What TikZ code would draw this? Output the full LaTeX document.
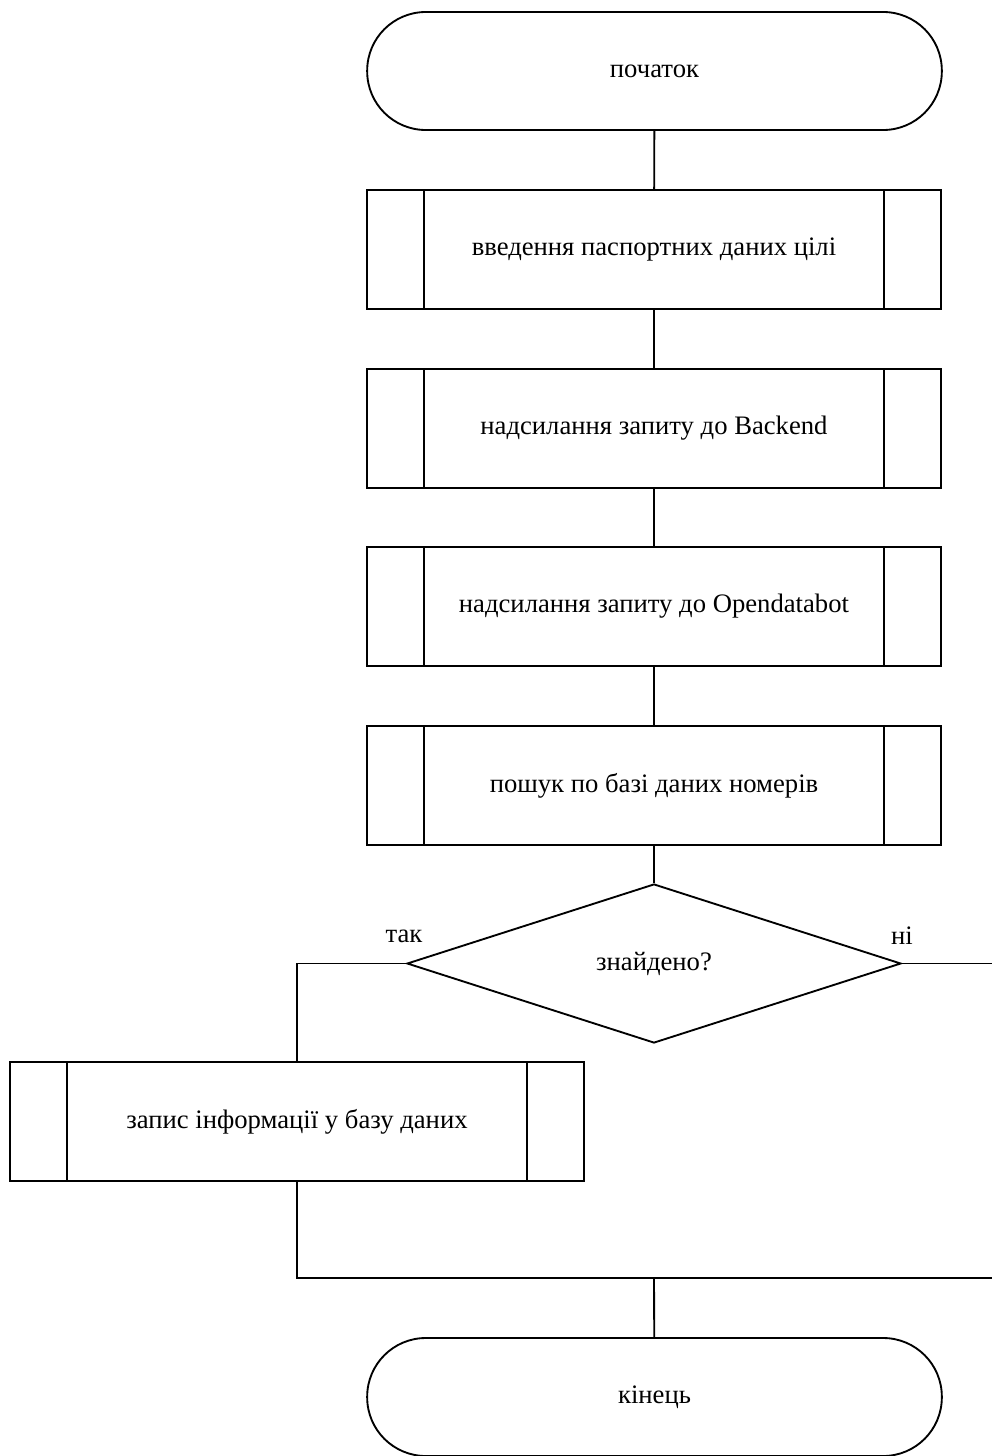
\documentclass[tikz,border=0pt]{standalone}
\usepackage{fontspec}
\setmainfont{Liberation Serif}
\usetikzlibrary{shapes.geometric}
\tikzset{
  every node/.style={font=\fontsize{20}{24}\selectfont},
  flowline/.style={line width=1.4pt},
  terminal/.style={draw, line width=1.4pt, rounded corners=44pt,
    minimum width=431pt, minimum height=88.5pt, inner sep=0pt},
  subproc/.style={draw, line width=1.4pt, minimum width=430.5pt,
    minimum height=89.25pt, inner sep=0pt,
    path picture={
      \draw[line width=1.4pt]
        ([xshift=42.75pt]path picture bounding box.north west) --
        ([xshift=42.75pt]path picture bounding box.south west)
        ([xshift=-42.75pt]path picture bounding box.north east) --
        ([xshift=-42.75pt]path picture bounding box.south east);
    }},
  decision/.style={draw, diamond, line width=1.4pt, minimum width=370.5pt,
    minimum height=119.25pt, inner sep=0pt},
  branchlabel/.style={inner sep=0pt}
}
\begin{document}
\begin{tikzpicture}[x=0.75pt, y=-0.75pt]
  \useasboundingbox (0,0) rectangle (992,1456);

  \node[terminal] (start) at (654.5,71) {початок};
  \node[subproc] (p1) at (654,249.5) {введення паспортних даних цілі};
  \node[subproc] (p2) at (654,428.5) {надсилання запиту до Backend};
  \node[subproc] (p3) at (654,606.5) {надсилання запиту до Opendatabot};
  \node[subproc] (p4) at (654,785.5) {пошук по базі даних номерів};
  \node[decision] (dec) at (654,963.5) {знайдено?};
  \node[subproc] (p5) at (297,1121.5) {запис інформації у базу даних};
  \node[terminal] (stop) at (654.5,1397) {кінець};

  \node[branchlabel] (yes) at (404,936) {так};
  \node[branchlabel] (no) at (902,936) {ні};

  \coordinate (merge) at (654,1278);
  \coordinate (rightedge) at (996,1278);

  \draw[flowline] (start) -- (p1);
  \draw[flowline] (p1) -- (p2);
  \draw[flowline] (p2) -- (p3);
  \draw[flowline] (p3) -- (p4);
  \draw[flowline] (p4) -- (dec);
  \draw[flowline] (dec.west) -| (p5.north);
  \draw[flowline] (p5.south) |- (merge);
  \draw[flowline] (dec.east) -| (rightedge) -- (merge);
  \draw[flowline] (merge) -- (stop);
\end{tikzpicture}
\end{document}
